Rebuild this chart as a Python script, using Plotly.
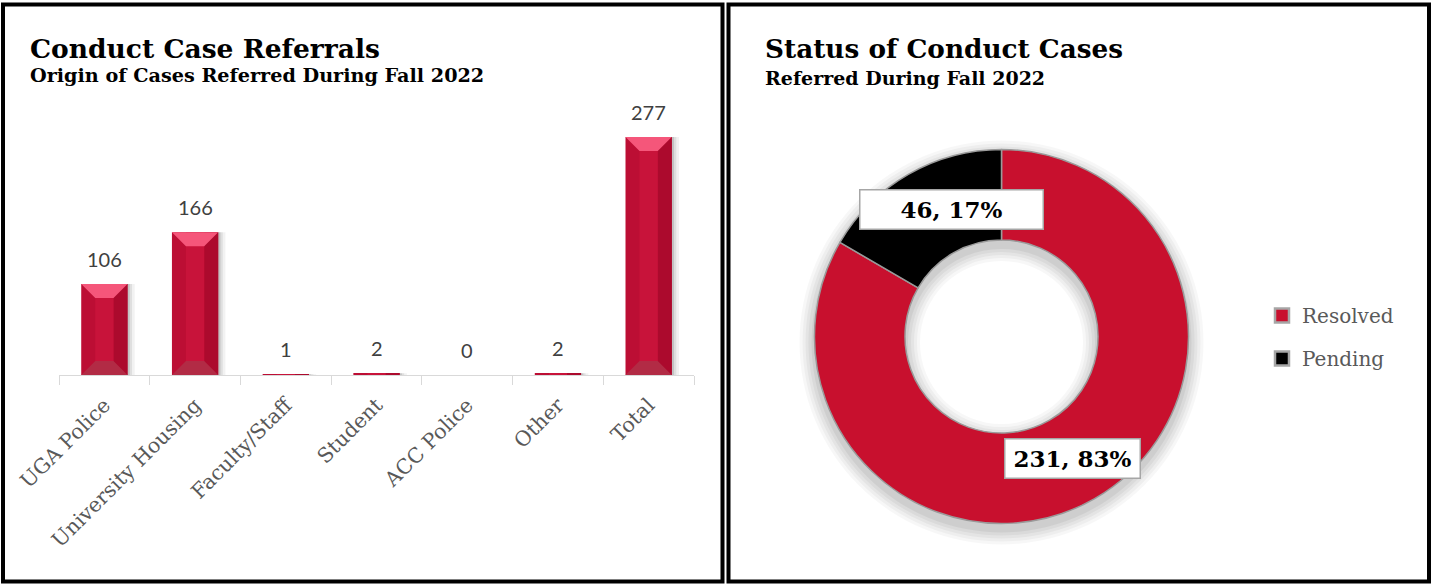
import math
import plotly.graph_objects as go

# ---------------- data ----------------
categories = ["UGA Police", "University Housing", "Faculty/Staff", "Student",
              "ACC Police", "Other", "Total"]
referrals = [106, 166, 1, 2, 0, 2, 277]

status_labels = ["Resolved", "Pending"]
status_values = [231, 46]

bar_title = "Conduct Case Referrals"
bar_subtitle = "Origin of Cases Referred During Fall 2022"
pie_title = "Status of Conduct Cases"
pie_subtitle = "Referred During Fall 2022"

# ---------------- layout constants ----------------
W, H = 1432, 584
SERIF = "DejaVu Serif"
RED = "#C8102E"
GRAY_TXT = "#595959"

bx0, bx1 = 59, 694
by_top, by_bot = 100, 375
y_max = 320

cx, cy, r_out, r_in = 1001.5, 336.5, 187, 96.5

def px(x):
    return x / W

def py(y):
    return (H - y) / H

fig = go.Figure()

# ---------------- bar chart with bevel look ----------------
n = len(categories)
cat_px = (bx1 - bx0) / n
px_per_unit = (by_bot - by_top) / y_max
bar_w = 0.51
bevel = 14
half = bar_w * cat_px / 2
inner_half = half - bevel
inner_w = 2 * inner_half / cat_px
side_w = (bar_w - inner_w) / 2

for shift, alpha in [(0.08, 0.05), (0.05, 0.08), (0.025, 0.12)]:
    fig.add_trace(go.Bar(x=categories, y=referrals, width=bar_w, offset=-bar_w / 2 + shift,
                         marker=dict(color=f"rgba(0,0,0,{alpha})", line=dict(width=0)),
                         hoverinfo="skip", showlegend=False))
fig.add_trace(go.Bar(x=categories, y=referrals, width=bar_w, offset=-bar_w / 2,
                     marker=dict(color="#BC0E34", line=dict(width=0)), showlegend=False,
                     name="Referrals"))
fig.add_trace(go.Bar(x=categories, y=referrals, width=side_w, offset=inner_w / 2,
                     marker=dict(color="#AC0A2D", line=dict(width=0)), hoverinfo="skip",
                     showlegend=False))
fig.add_trace(go.Bar(x=categories, y=referrals, width=inner_w, offset=-inner_w / 2,
                     marker=dict(color="#C8133A", line=dict(width=0)), hoverinfo="skip",
                     showlegend=False))

shapes = []
annotations = []
for i, v in enumerate(referrals):
    if v * px_per_unit > 2 * bevel + 4:
        top_path = (f"M {-half},0 L {half},0 L {inner_half},{-bevel} "
                    f"L {-inner_half},{-bevel} Z")
        bot_path = (f"M {-half},0 L {half},0 L {inner_half},{bevel} "
                    f"L {-inner_half},{bevel} Z")
        shapes.append(dict(type="path", xref="x", yref="y", xsizemode="pixel",
                           ysizemode="pixel", xanchor=i, yanchor=v, path=top_path,
                           fillcolor="#F5567A", line=dict(width=0), layer="above"))
        shapes.append(dict(type="path", xref="x", yref="y", xsizemode="pixel",
                           ysizemode="pixel", xanchor=i, yanchor=0, path=bot_path,
                           fillcolor="#B22B45", line=dict(width=0), layer="above"))
    annotations.append(dict(x=categories[i], y=v, xref="x", yref="y", text=str(v),
                            showarrow=False, yanchor="middle", yshift=25,
                            font=dict(family="Lato", size=20, color="#404040")))

fig.update_layout(
    barmode="overlay",
    xaxis=dict(domain=[px(bx0), px(bx1)], anchor="y", type="category",
               showline=True, linecolor="#D9D9D9", linewidth=1,
               ticks="outside", tickson="boundaries", ticklen=9, tickcolor="#D9D9D9",
               tickangle=-45, ticklabelstandoff=9, showgrid=False, zeroline=False,
               automargin=False,
               tickfont=dict(family=SERIF, size=20.5, color=GRAY_TXT), fixedrange=True),
    yaxis=dict(domain=[py(by_bot), py(by_top)], anchor="x", range=[0, y_max],
               visible=False, fixedrange=True, automargin=False),
)

# ---------------- donut ----------------
for k, alpha in [(5, 0.03), (4, 0.035), (3, 0.04), (2, 0.045), (1, 0.05)]:
    ro = r_out + 3 * k
    ri = max(r_in - 3 * k, 10)
    scy = cy + 6
    fig.add_trace(go.Pie(values=[1], labels=["shadow"], hole=ri / ro, sort=False,
                         marker=dict(colors=[f"rgba(0,0,0,{alpha})"], line=dict(width=0)),
                         textinfo="none", hoverinfo="skip", showlegend=False,
                         domain=dict(x=[px(cx - ro), px(cx + ro)],
                                     y=[py(scy + ro), py(scy - ro)])))

fig.add_trace(go.Pie(labels=status_labels, values=status_values, hole=r_in / r_out,
                     sort=False, direction="clockwise", rotation=0,
                     marker=dict(colors=[RED, "#000000"], line=dict(color="#9A9A9A", width=1.5)),
                     textinfo="none", showlegend=False, name="Status",
                     domain=dict(x=[px(cx - r_out), px(cx + r_out)],
                                 y=[py(cy + r_out), py(cy - r_out)])))

total = sum(status_values)
r_mid = (r_out + r_in) / 2
label_box = {"Resolved": dict(width=130, height=34, xs=0, ys=1),
             "Pending": dict(width=178, height=34, xs=21, ys=4)}
cum = 0
for lab, val in zip(status_labels, status_values):
    mid = (cum + val / 2) / total * 2 * math.pi
    cum += val
    lx = cx + r_mid * math.sin(mid)
    ly = cy - r_mid * math.cos(mid)
    b = label_box[lab]
    annotations.append(dict(x=px(lx), y=py(ly), xref="paper", yref="paper",
                            text=f"<b>{val}, {round(100 * val / total)}%</b>",
                            showarrow=False, xanchor="center", yanchor="middle",
                            xshift=b["xs"], yshift=b["ys"], width=b["width"], height=b["height"],
                            bgcolor="white", bordercolor="#A6A6A6", borderwidth=1.5,
                            borderpad=2, font=dict(family=SERIF, size=23, color="black")))

swatch_colors = [RED, "#000000"]
for lab, col in zip(status_labels, swatch_colors):
    fig.add_trace(go.Scatter(x=[None], y=[None], mode="markers", name=lab,
                             legendgroup=lab, xaxis="x2", yaxis="y2",
                             marker=dict(symbol="square", size=14, color=col,
                                         line=dict(color="#A6A6A6", width=2.5))))

fig.update_layout(
    xaxis2=dict(domain=[0.9, 0.95], anchor="y2", visible=False),
    yaxis2=dict(domain=[0.0, 0.05], anchor="x2", visible=False),
)

annotations += [
    dict(x=px(28), y=py(48), xref="paper", yref="paper", xanchor="left", yanchor="middle",
         text=f"<b>{bar_title}</b>", showarrow=False,
         font=dict(family=SERIF, size=26.5, color="black")),
    dict(x=px(28), y=py(76), xref="paper", yref="paper", xanchor="left", yanchor="middle",
         text=f"<b>{bar_subtitle}</b>", showarrow=False,
         font=dict(family=SERIF, size=19.2, color="black")),
    dict(x=px(763), y=py(48), xref="paper", yref="paper", xanchor="left", yanchor="middle",
         text=f"<b>{pie_title}</b>", showarrow=False,
         font=dict(family=SERIF, size=26.3, color="black")),
    dict(x=px(763), y=py(78), xref="paper", yref="paper", xanchor="left", yanchor="middle",
         text=f"<b>{pie_subtitle}</b>", showarrow=False,
         font=dict(family=SERIF, size=19, color="black")),
]

shapes += [
    dict(type="rect", xref="paper", yref="paper", x0=px(3), x1=px(722.5), y0=py(581.5), y1=py(4.5),
         line=dict(color="black", width=4), fillcolor="rgba(0,0,0,0)", layer="above"),
    dict(type="rect", xref="paper", yref="paper", x0=px(728.5), x1=px(1429), y0=py(581.5), y1=py(4.5),
         line=dict(color="black", width=4), fillcolor="rgba(0,0,0,0)", layer="above"),
]

fig.update_layout(
    width=W, height=H, autosize=False,
    margin=dict(l=0, r=0, t=0, b=0, pad=0, autoexpand=False),
    paper_bgcolor="white", plot_bgcolor="white",
    shapes=shapes, annotations=annotations,
    showlegend=True,
    legend=dict(x=px(1262), y=py(296), xanchor="left", yanchor="top",
                traceorder="grouped", tracegroupgap=14,
                font=dict(family=SERIF, size=20, color=GRAY_TXT),
                bgcolor="rgba(0,0,0,0)"),
)

fig.write_html("out.html", config={"displayModeBar": False},
               post_script="document.body.style.margin='0';document.body.style.padding='0';"
                           "document.documentElement.style.overflow='hidden';")
